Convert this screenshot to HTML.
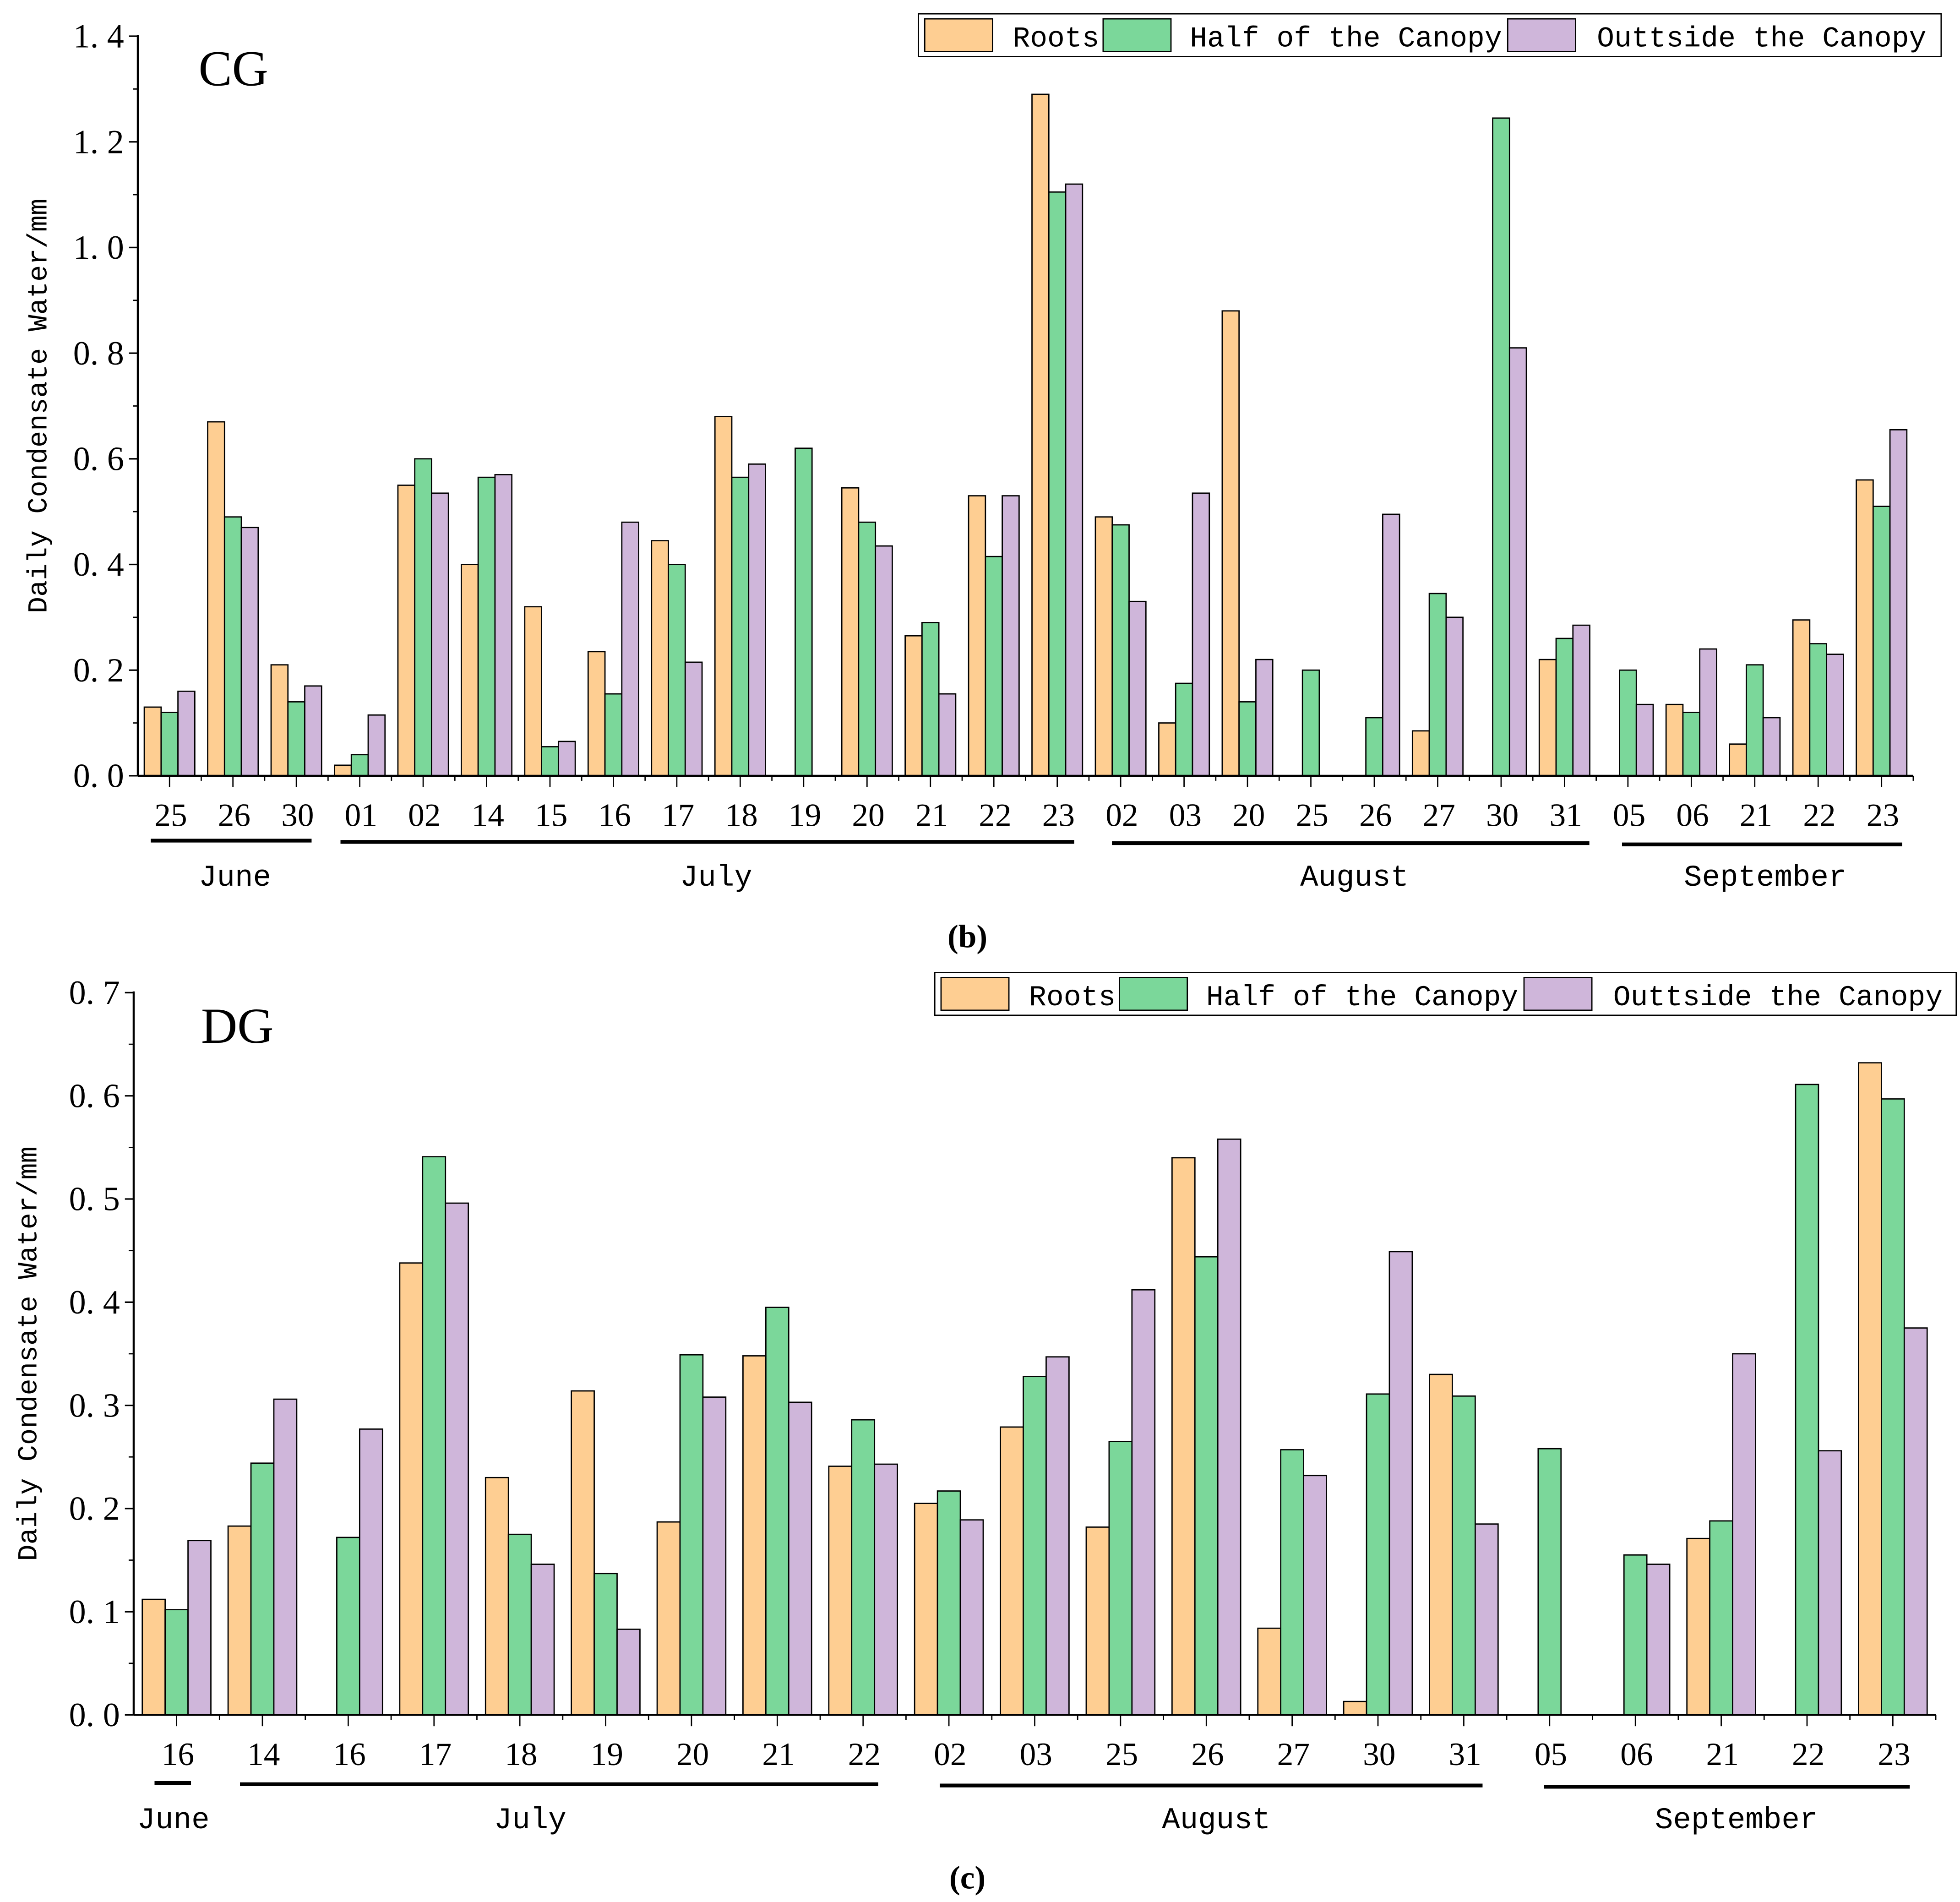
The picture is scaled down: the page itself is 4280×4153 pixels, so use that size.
<!DOCTYPE html>
<html><head><meta charset="utf-8"><style>
html,body{margin:0;padding:0;background:#fff}
svg{display:block}
text{font-family:"Liberation Serif","Noto Serif CJK SC",serif}
.mono{font-family:"Liberation Mono","Noto Sans CJK SC",monospace}
</style></head><body>
<svg id="fig" width="4280" height="4153" viewBox="0 0 1560 1513.7" xmlns="http://www.w3.org/2000/svg">
<g id="cg"></g>
<g id="dg"></g>
</svg>
<script>
const cgCategories=["25","26","30","01","02","14","15","16","17","18","19","20","21","22","23","02","03","20","25","26","27","30","31","05","06","21","22","23"];
const cgRoots=[0.13,0.67,0.21,0.02,0.55,0.40,0.32,0.235,0.445,0.68,0,0.545,0.265,0.53,1.29,0.49,0.10,0.88,0,0,0.085,0,0.22,0,0.135,0.06,0.295,0.56];
const cgHalf=[0.12,0.49,0.14,0.04,0.60,0.565,0.055,0.155,0.40,0.565,0.62,0.48,0.29,0.415,1.105,0.475,0.175,0.14,0.20,0.11,0.345,1.245,0.26,0.20,0.12,0.21,0.25,0.51];
const cgOutside=[0.16,0.47,0.17,0.115,0.535,0.57,0.065,0.48,0.215,0.59,0,0.435,0.155,0.53,1.12,0.33,0.535,0.22,0,0.495,0.30,0.81,0.285,0.135,0.24,0.11,0.23,0.655];
const cgTicks=["0.0","0.2","0.4","0.6","0.8","1.0","1.2","1.4"];
const cgMonths=["June","July","August","September"];

const dgCategories=["16","14","16","17","18","19","20","21","22","02","03","25","26","27","30","31","05","06","21","22","23"];
const dgRoots=[0.112,0.183,0,0.438,0.230,0.314,0.187,0.348,0.241,0.205,0.279,0.182,0.540,0.084,0.013,0.330,0,0,0.171,0,0.632];
const dgHalf=[0.102,0.244,0.172,0.541,0.175,0.137,0.349,0.395,0.286,0.217,0.328,0.265,0.444,0.257,0.311,0.309,0.258,0.155,0.188,0.611,0.597];
const dgOutside=[0.169,0.306,0.277,0.496,0.146,0.083,0.308,0.303,0.243,0.189,0.347,0.412,0.558,0.232,0.449,0.185,0,0.146,0.350,0.256,0.375];
const dgTicks=["0.0","0.1","0.2","0.3","0.4","0.5","0.6","0.7"];
const dgMonths=["June","July","August","September"];

const COLORS=["#FECE92","#7BD79A","#CFB6DA"];
const NS="http://www.w3.org/2000/svg";
function mk(parent,tag,attrs,txt){const e=document.createElementNS(NS,tag);for(const k in attrs)e.setAttribute(k,attrs[k]);if(txt!==undefined)e.textContent=txt;parent.appendChild(e);return e;}

function drawChart(g,cfg){
  const n=cfg.cats.length,cw=(cfg.x1-cfg.x0)/n;
  const xs=i=>cfg.x0+cw*(i+0.5);
  const vmax=parseFloat(cfg.ticks[cfg.ticks.length-1]);
  const ys=v=>cfg.y0-(v/vmax)*(cfg.y0-cfg.yTop);
  const series=[cfg.roots,cfg.half,cfg.out];
  const sNames=["roots","half-canopy","outside-canopy"];
  series.forEach((arr,s)=>{arr.forEach((v,i)=>{
    if(v<=0)return;
    const x=xs(i)-1.5*cfg.bw+s*cfg.bw;
    const r=mk(g,"rect",{x:x,y:ys(v),width:cfg.bw,height:cfg.y0-ys(v),fill:COLORS[s],stroke:"#000","stroke-width":1});
    
    
  });});
  const ya=mk(g,"line",{x1:cfg.x0,y1:cfg.yTop-1,x2:cfg.x0,y2:cfg.y0,stroke:"#000","stroke-width":1.6});
  
  
  const xa=mk(g,"line",{x1:cfg.x0,y1:cfg.y0,x2:cfg.x1,y2:cfg.y0,stroke:"#000","stroke-width":1.6});
  
  
  cfg.ticks.forEach((t,i)=>{
    const v=parseFloat(t),y=ys(v);
    mk(g,"line",{x1:cfg.x0-7,y1:y,x2:cfg.x0,y2:y,stroke:"#000","stroke-width":1.2});
    if(i<cfg.ticks.length-1){const ym=ys(v+vmax/(cfg.ticks.length-1)/2);mk(g,"line",{x1:cfg.x0-4,y1:ym,x2:cfg.x0,y2:ym,stroke:"#000","stroke-width":1});}
    const tl=mk(g,"text",{x:cfg.x0-11,y:y+9,"text-anchor":"end","font-size":27},t.replace(".",". "));
    
    
  });
  cfg.cats.forEach((c,i)=>{
    mk(g,"line",{x1:xs(i),y1:cfg.y0,x2:xs(i),y2:cfg.y0+9,stroke:"#000","stroke-width":1});
    mk(g,"line",{x1:cfg.x0+cw*(i+1),y1:cfg.y0,x2:cfg.x0+cw*(i+1),y2:cfg.y0+4,stroke:"#000","stroke-width":1});
    const tl=mk(g,"text",{x:xs(i)+1,y:cfg.y0+40,"text-anchor":"middle","font-size":26},c);
    
    
  });
  cfg.months.forEach((m,k)=>{
    const [a,b,cx]=cfg.mSpans[k];
    const ln=mk(g,"line",{x1:a,y1:cfg.ulY+k*1,x2:b,y2:cfg.ulY+k*1,stroke:"#000","stroke-width":3});
    
    
    const ml=mk(g,"text",{x:cx,y:cfg.mY,"text-anchor":"middle","font-size":24,class:"mono"},m);
    
    
  });
  const yt=mk(g,"text",{x:0,y:0,transform:`translate(${cfg.ytX},${(cfg.y0+cfg.yTop)/2}) rotate(-90)`,"text-anchor":"middle","font-size":22,class:"mono"},"Daily Condensate Water/mm");
  
  
  const tt=mk(g,"text",{x:cfg.titleX,y:cfg.titleY,"font-size":40},cfg.title);
  
  
  const L=cfg.leg;
  const lb=mk(g,"rect",{x:L.x,y:L.y,width:L.w,height:34,fill:"#fff",stroke:"#000","stroke-width":1});
  
  
  const lnames=["Roots","Half of the Canopy","Outtside the Canopy"];
  L.sw.forEach((sx,s)=>{
    const sw=mk(g,"rect",{x:sx,y:L.y+4,width:54,height:26,fill:COLORS[s],stroke:"#000","stroke-width":1});
    
    
    const lt=mk(g,"text",{x:L.tx[s],y:L.y+26,"font-size":23,class:"mono"},lnames[s]);
    
    
  });
  const cap=mk(g,"text",{x:770,y:cfg.capY,"text-anchor":"middle","font-size":26,"font-weight":"bold"},cfg.cap);
  
  
}

drawChart(document.getElementById("cg"),{
  cats:cgCategories,roots:cgRoots,half:cgHalf,out:cgOutside,ticks:cgTicks,months:cgMonths,
  x0:109.7,x1:1522.8,y0:617.4,yTop:28.8,bw:13.4,
  mSpans:[[120,248,187],[271,855,570],[885,1265,1078],[1291,1514,1405]],ulY:669,mY:705,
  ytX:37,title:"CG",titleX:158,titleY:68,
  leg:{x:731,y:11,w:814,sw:[736,878,1200],tx:[806,947,1271]},cap:"(b)",capY:754
});
drawChart(document.getElementById("dg"),{
  cats:dgCategories,roots:dgRoots,half:dgHalf,out:dgOutside,ticks:dgTicks,months:dgMonths,
  x0:106.4,x1:1540.7,y0:1364.8,yTop:790,bw:18.2,
  mSpans:[[123,152,138],[191,699,422],[748,1180,968],[1229,1520,1382]],ulY:1419,mY:1455,
  ytX:29,title:"DG",titleX:160,titleY:830,
  leg:{x:744,y:774,w:813,sw:[749,891,1213],tx:[819,960,1284]},cap:"(c)",capY:1503
});
</script>
</body></html>
